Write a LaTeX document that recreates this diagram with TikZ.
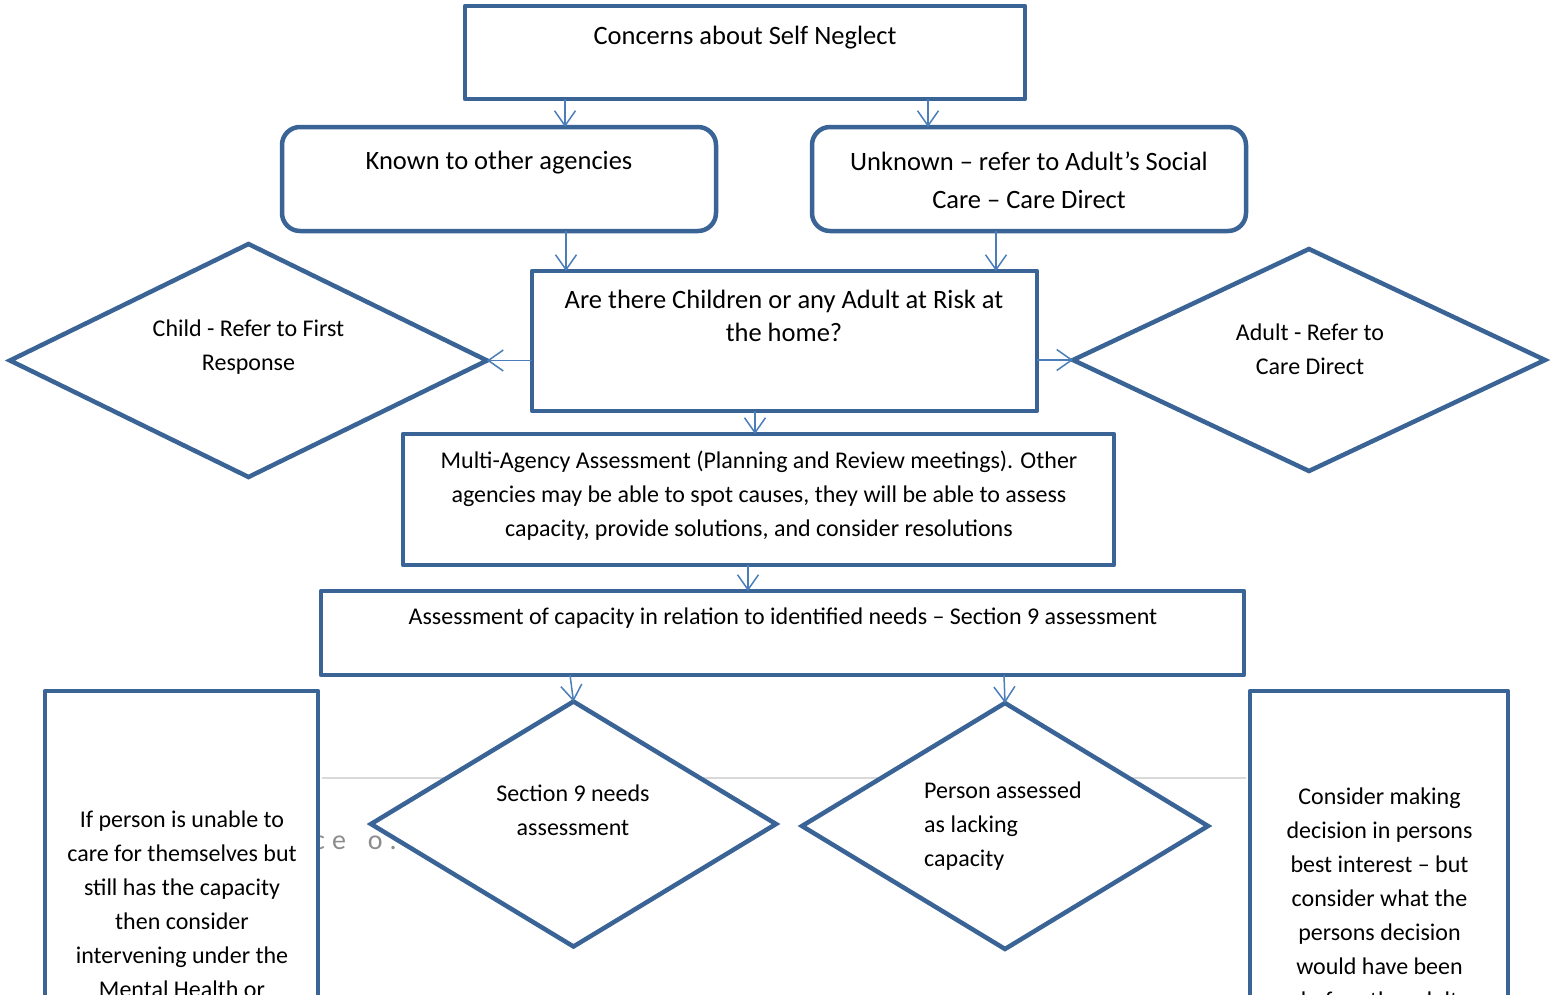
\documentclass[tikz,border=0pt]{standalone}
\usepackage{fontspec}
\setmainfont{Carlito}
\usetikzlibrary{shapes.geometric,arrows.meta}
\definecolor{bord}{RGB}{58,99,150}
\definecolor{arrc}{RGB}{74,126,187}
\definecolor{faint}{RGB}{217,217,217}
\definecolor{ghost}{RGB}{140,140,140}
\begin{document}
\begin{tikzpicture}[x=1pt,y=-1pt,
 box/.style={draw=bord, line width=4.5pt, line join=round, fill=white, rectangle, inner sep=0pt, outer sep=0pt},
 rbox/.style={box, rounded corners=18pt},
 dia/.style={draw=bord, line width=4.5pt, fill=white, diamond, inner sep=0pt, outer sep=0pt},
 arr/.style={draw=arrc, line width=1.5pt, -{Straight Barb[length=15pt,width=21pt]}},
 big/.style={font=\fontsize{26.5}{38}\selectfont, align=center, inner sep=0pt},
 norm/.style={font=\fontsize{24}{34}\selectfont, align=center, inner sep=0pt},
]
\useasboundingbox (0,0) rectangle (1551,994);
\clip (0,0) rectangle (1551,994);
\fill[white] (0,0) rectangle (1551,994);

% background remnants
\draw[faint, line width=2pt] (322,778) coordinate (gl) -- (1246,778) coordinate (gr);
\node[ghost, font=\fontsize{28}{30}\selectfont, anchor=west, inner sep=0pt] (ghosttxt) at (313,843) {c\hspace{7pt}e\hspace{22pt}o\hspace{7pt}.};

% boxes
\node[box, minimum width=560pt, minimum height=93pt] (concern) at (745,52.5) {};
\node[rbox, minimum width=434pt, minimum height=104pt] (known) at (499,179) {};
\node[rbox, minimum width=434pt, minimum height=104pt] (unknown) at (1029,179) {};
\node[box, minimum width=505pt, minimum height=140pt] (are) at (784.5,341) {};
\node[dia, minimum width=477pt, minimum height=233pt] (child) at (248.5,360.5) {};
\node[dia, minimum width=472pt, minimum height=222pt] (adult) at (1309,360) {};
\node[box, minimum width=711pt, minimum height=131pt] (multi) at (758.5,499.5) {};
\node[box, minimum width=923pt, minimum height=84pt] (assess) at (782.5,633) {};
\node[box, minimum width=273pt, minimum height=409pt] (lbox) at (181.5,895.5) {};
\node[box, minimum width=258pt, minimum height=409pt] (rbox) at (1379,895.5) {};
\node[dia, minimum width=405pt, minimum height=245pt] (sec9) at (573.5,824) {};
\node[dia, minimum width=406pt, minimum height=246pt] (person) at (1005,826) {};

% texts
\node[big] (tconcern) at (745,37.5) {Concerns about Self Neglect};
\node[big] (tknown) at (499,162.5) {Known to other agencies};
\node[big] (tunknown) at (1029,180) {Unknown -- refer to Adult’s Social\\Care -- Care Direct};
\node[font=\fontsize{26.5}{33}\selectfont, align=center, inner sep=0pt] (tare) at (784,315.5) {Are there Children or any Adult at Risk at\\the home?};
\node[norm] (tchild) at (248.5,347.5) {Child - Refer to First\\Response};
\node[norm] (tadult) at (1310,349.5) {Adult - Refer to\\Care Direct};
\node[norm] (tmulti) at (759,495.5) {Multi-Agency Assessment (Planning and Review meetings). Other\\agencies may be able to spot causes, they will be able to assess\\capacity, provide solutions, and consider resolutions};
\node[norm] (tassess) at (783,618) {Assessment of capacity in relation to identified needs -- Section 9 assessment};
\node[norm] (tsec9) at (573,810) {Section 9 needs\\assessment};
\node[norm, align=left, anchor=west] (tperson) at (924,826.5) {Person assessed\\as lacking\\capacity};
\node[norm] (tlbox) at (182,904.5) {If person is unable to\\care for themselves but\\still has the capacity\\then consider\\intervening under the\\Mental Health or};
\node[norm] (trbox) at (1379.5,898.5) {Consider making\\decision in persons\\best interest -- but\\consider what the\\persons decision\\would have been\\before the adult};

% connectors
\draw[arr] (concern.south -| 565,0) -- (known.north -| 565,0);
\draw[arr] (concern.south -| 928,0) -- (unknown.north -| 928,0);
\draw[arr] (known.south -| 566,0) -- (are.north -| 566,0);
\draw[arr] (unknown.south -| 996,0) -- (are.north -| 996,0);
\draw[arr] (are.west |- child.east) -- (child.east);
\draw[arr] (are.east |- adult.west) -- (adult.west);
\draw[arr] (are.south -| 755,0) -- (multi.north -| 755,0);
\draw[arr] (multi.south -| 748,0) -- (assess.north -| 748,0);
\draw[arr] (assess.south -| 570,0) -- (sec9.north);
\draw[arr] (assess.south -| 1004,0) -- (person.north);
\end{tikzpicture}
\end{document}
